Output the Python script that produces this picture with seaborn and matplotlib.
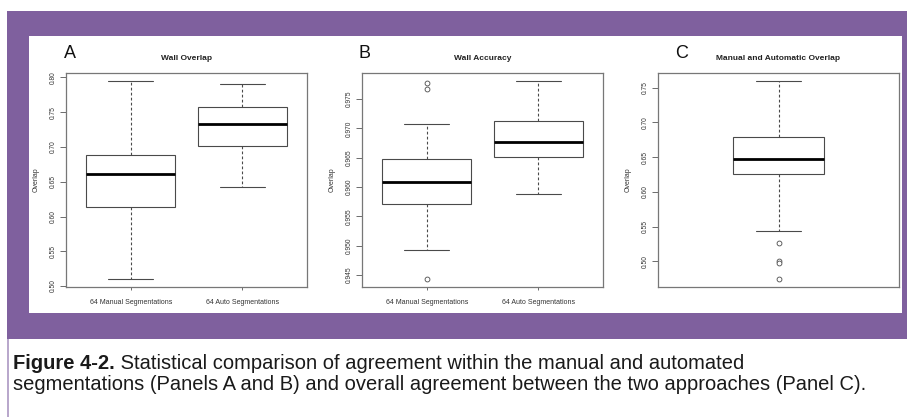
import numpy as np
import pandas as pd
import matplotlib
matplotlib.use("Agg")
import matplotlib.pyplot as plt
from matplotlib.patches import Rectangle
from matplotlib.ticker import MultipleLocator, FormatStrFormatter
import seaborn as sns

a_groups = ['64 Manual Segmentations', '64 Auto Segmentations']
a_lo = [0.510, 0.642]
a_q1 = [0.613, 0.701]
a_med = [0.661, 0.733]
a_q3 = [0.688, 0.758]
a_hi = [0.795, 0.790]

# panel B - wall accuracy
b_groups = ['64 Manual Segmentations', '64 Auto Segmentations']
b_lo = [0.9492, 0.9588]
b_q1 = [0.9571, 0.9652]
b_med = [0.9608, 0.9676]
b_q3 = [0.9647, 0.9713]
b_hi = [0.9708, 0.9781]
b_out = [0.9778, 0.9768, 0.9443]   # all in the manual group

# panel C - manual vs automatic overlap
c_stats = [0.5437, 0.625, 0.6467, 0.6793, 0.7597]
c_out = [0.5269, 0.5009, 0.4970, 0.4744]

W, H = 907, 417
PURPLE = '#7f609e'
EDGE = '#4a4a4a'

sns.set_style('white')
plt.rcParams['font.family'] = ['Liberation Sans', 'DejaVu Sans']

fig = plt.figure(figsize=(W / 100, H / 100), dpi=100)


def px_rect(x0, y0, x1, y1, color):
    fig.patches.append(Rectangle((x0 / W, 1 - y1 / H), (x1 - x0) / W, (y1 - y0) / H,
                                 transform=fig.transFigure, color=color, zorder=-10, lw=0))


def px_axes(x0, y0, x1, y1):
    return fig.add_axes([x0 / W, 1 - y1 / H, (x1 - x0) / W, (y1 - y0) / H])


# frame
px_rect(7, 11, 907, 339, PURPLE)
px_rect(29, 36, 902, 313, 'white')
px_rect(7, 339, 9, 417, '#b9a8cc')


def five_num_df(groups, lo, q1, med, q3, hi):
    rows = []
    for g, *vals in zip(groups, lo, q1, med, q3, hi):
        for v in vals:
            rows.append((g, v))
    return pd.DataFrame(rows, columns=['group', 'value'])


box_kw = dict(whis=(0, 100), width=0.8, color='white', linecolor=EDGE, linewidth=0.8,
              showfliers=False,
              medianprops=dict(color='black', linewidth=2.0),
              whiskerprops=dict(linestyle=(0, (2.5, 2))))


def style_axes(ax, lims, step, fmt, title, letter, letter_x):
    lo, hi = lims
    pad = (hi - lo) * 0.04
    ax.set_ylim(lo - pad, hi + pad)
    ax.yaxis.set_major_locator(MultipleLocator(step))
    ax.yaxis.set_major_formatter(FormatStrFormatter(fmt))
    for s in ax.spines.values():
        s.set_visible(True)
        s.set_color('#777777')
        s.set_linewidth(0.9)
    ax.tick_params(axis='y', left=True, direction='out', length=4, width=0.6,
                   color='#555555', labelsize=4.8, labelcolor='#333333', pad=2.5)
    plt.setp(ax.get_yticklabels(), rotation=90, va='center', ha='right')
    ax.tick_params(axis='x', bottom=True, direction='out', length=2.5, width=0.6,
                   color='#555555', labelsize=5, labelcolor='#333333', pad=6)
    ax.set_xlabel('')
    ax.set_ylabel('Overlap', fontsize=5, color='#333333')
    ax.yaxis.set_label_coords(-0.11, 0.5)
    ax.text(0.5, 1.07, title, transform=ax.transAxes, ha='center', va='center',
            fontsize=6, fontweight='bold', color='#222222')
    fig.text(letter_x / W, 1 - 54 / H, letter, fontsize=13, ha='left', va='center',
             color='#111111')


# A
ax = px_axes(66, 73, 307, 287)
sns.boxplot(data=five_num_df(a_groups, a_lo, a_q1, a_med, a_q3, a_hi),
            x='group', y='value', order=a_groups, ax=ax, **box_kw)
ax.set_xlim(-0.58, 1.58)
style_axes(ax, (min(a_lo), max(a_hi)), 0.05, '%.2f', 'Wall Overlap', 'A', 64)

# B
ax = px_axes(362, 73, 603, 287)
sns.boxplot(data=five_num_df(b_groups, b_lo, b_q1, b_med, b_q3, b_hi),
            x='group', y='value', order=b_groups, ax=ax, **box_kw)
sns.stripplot(x=[b_groups[0]] * len(b_out), y=b_out, order=b_groups, jitter=False, ax=ax,
              color='white', edgecolor=EDGE, linewidth=0.6, size=3.5)
ax.set_xlim(-0.58, 1.58)
style_axes(ax, (min(b_lo + b_out), max(b_hi + b_out)), 0.005, '%.3f', 'Wall Accuracy', 'B', 359)

# C
ax = px_axes(658, 73, 899, 287)
sns.boxplot(y=c_stats, ax=ax, **box_kw)
sns.stripplot(y=c_out, jitter=False, ax=ax, color='white', edgecolor=EDGE, linewidth=0.6, size=3.5)
ax.set_xlim(-1.07, 1.07)
style_axes(ax, (min(c_stats + c_out), max(c_stats + c_out)), 0.05, '%.2f',
           'Manual and Automatic Overlap', 'C', 675)
ax.set_xticks([])

# caption
cap_size = 14.5
t = fig.text(13 / W, 1 - 369 / H, 'Figure 4-2.', fontsize=cap_size, fontweight='bold',
             va='baseline', color='#1a1a1a')
fig.canvas.draw()
bb = t.get_window_extent(fig.canvas.get_renderer())
fig.text(bb.x1 / W, 1 - 369 / H,
         ' Statistical comparison of agreement within the manual and automated',
         fontsize=cap_size, va='baseline', color='#1a1a1a')
fig.text(13 / W, 1 - 390 / H,
         'segmentations (Panels A and B) and overall agreement between the two approaches (Panel C).',
         fontsize=cap_size, va='baseline', color='#1a1a1a')

fig.savefig('out.png', dpi=100)
